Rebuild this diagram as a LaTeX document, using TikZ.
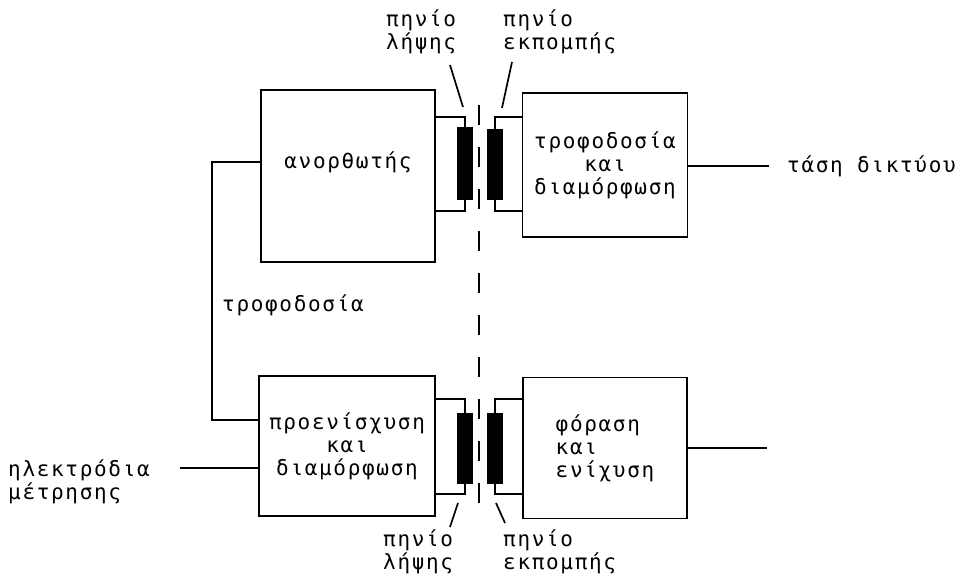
\documentclass[tikz,border=0pt]{standalone}
\usepackage{fontspec}
\setmainfont{DejaVu Sans Mono}[LetterSpace=8]
\usetikzlibrary{positioning}

\begin{document}
\begin{tikzpicture}[
    x=1pt, y=-1pt,
    font=\fontsize{21}{23}\selectfont, % Typewriter-like lettering
    block/.style={draw, line width=1.8pt, inner sep=0pt, align=center}, % Main boxes
    coil/.style={draw, fill=black, line width=1pt, minimum width=15pt, inner sep=0pt}, % Coil bodies
    wire/.style={line width=1.7pt}, % Connecting wires
    pointer/.style={line width=1.7pt}, % Label pointers
    txt/.style={align=left, inner sep=0pt} % Free labels
]

    % Frame of the page
    \useasboundingbox (0,0) rectangle (960,577);

    % Blocks
    \node[block, minimum width=174pt, minimum height=172pt, text depth=31pt] (rectifier) at (348,176) {ανορθωτής};
    \node[block, minimum width=165pt, minimum height=144pt] (supply) at (605,165) {τροφοδοσία\\και\\διαμόρφωση};
    \node[block, minimum width=176pt, minimum height=140pt] (preamp) at (347,446) {προενίσχυση\\και\\διαμόρφωση};
    \node[block, minimum width=164pt, minimum height=141pt, align=left] (detector) at (605,448) {φόραση\\και\\ενίχυση};

    % Coils
    \node[coil, minimum height=72pt] (rxTop) at (465,164) {};
    \node[coil, minimum height=70pt] (txTop) at (495,165) {};
    \node[coil, minimum height=70pt] (rxBot) at (465,448) {};
    \node[coil, minimum height=70pt] (txBot) at (495,448) {};

    % Wire levels
    \coordinate (levA) at (0,117);
    \coordinate (levB) at (0,211);
    \coordinate (levC) at (0,399);
    \coordinate (levD) at (0,494);

    % Coil wiring
    \draw[wire] (rectifier.east |- levA) -| (rxTop.north);
    \draw[wire] (rectifier.east |- levB) -| (rxTop.south);
    \draw[wire] (supply.west |- levA) -| (txTop.north);
    \draw[wire] (supply.west |- levB) -| (txTop.south);
    \draw[wire] (preamp.east |- levC) -| (rxBot.north);
    \draw[wire] (preamp.east |- levD) -| (rxBot.south);
    \draw[wire] (detector.west |- levC) -| (txBot.north);
    \draw[wire] (detector.west |- levD) -| (txBot.south);

    % Separation line
    \coordinate (gapTop) at (479,105);
    \coordinate (gapBot) at (479,508);
    \draw[wire, dash pattern=on 20pt off 22pt] (gapTop) -- (gapBot);

    % Supply feed
    \coordinate (feedTop) at (212,162);
    \coordinate (feedBot) at (212,420);
    \draw[wire] (rectifier.west |- feedTop) -- (feedTop) -- (feedBot) -- (preamp.west |- feedBot);
    \node[txt, anchor=west] (feedLabel) at (222,305) {τροφοδοσία};

    % Electrodes
    \node[txt, anchor=west] (electrodes) at (8,482) {ηλεκτρόδια\\μέτρησης};
    \coordinate (elecIn) at (180,468);
    \draw[wire] (elecIn) -- (preamp.west |- elecIn);

    % Mains and output
    \node[txt, anchor=west, inner xsep=18pt] (mains) at (769,166) {τάση δικτύου};
    \draw[wire] (supply.east |- mains.west) -- (mains.west);
    \coordinate (outEnd) at (767,448);
    \draw[wire] (detector.east |- outEnd) -- (outEnd);

    % Coil labels
    \node[txt, anchor=west] (rxTopLabel) at (386,32) {πηνίο\\λήψης};
    \node[txt, anchor=west] (txTopLabel) at (503,32) {πηνίο\\εκπομπής};
    \node[txt, anchor=west] (rxBotLabel) at (383,552) {πηνίο\\λήψης};
    \node[txt, anchor=west] (txBotLabel) at (503,552) {πηνίο\\εκπομπής};

    % Pointers
    \coordinate (rxTopFrom) at (450,65);
    \coordinate (rxTopTip) at (463,107);
    \coordinate (txTopFrom) at (512,62);
    \coordinate (txTopTip) at (502,108);
    \coordinate (rxBotFrom) at (450,527);
    \coordinate (rxBotTip) at (458,503);
    \coordinate (txBotFrom) at (505,523);
    \coordinate (txBotTip) at (496,503);
    \draw[pointer] (rxTopFrom) -- (rxTopTip);
    \draw[pointer] (txTopFrom) -- (txTopTip);
    \draw[pointer] (rxBotFrom) -- (rxBotTip);
    \draw[pointer] (txBotFrom) -- (txBotTip);

\end{tikzpicture}
\end{document}
